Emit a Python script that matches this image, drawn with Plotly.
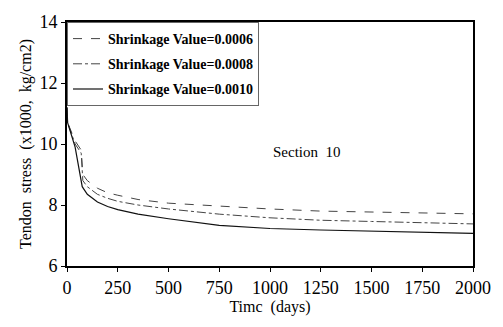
import plotly.graph_objects as go

days = [0, 3, 40, 70, 78, 100, 150, 200, 250, 350, 500, 750, 1000, 1250, 1500, 1750, 2000]
s0006 = [11.2, 10.7, 10.1, 9.8, 9.0, 8.8, 8.55, 8.4, 8.32, 8.18, 8.06, 7.96, 7.87, 7.8, 7.77, 7.74, 7.71]
s0008 = [11.2, 10.7, 10.0, 9.7, 8.8, 8.6, 8.35, 8.22, 8.12, 8.0, 7.87, 7.7, 7.58, 7.5, 7.46, 7.42, 7.38]
days10 = [0, 3, 40, 75, 100, 150, 200, 250, 350, 500, 750, 1000, 1250, 1500, 1750, 2000]
s0010 = [11.2, 10.7, 9.9, 8.6, 8.35, 8.1, 7.95, 7.85, 7.7, 7.55, 7.33, 7.23, 7.18, 7.14, 7.1, 7.07]

names = ["Shrinkage Value=0.0006", "Shrinkage Value=0.0008", "Shrinkage Value=0.0010"]

fig = go.Figure()
fig.add_trace(go.Scatter(x=days, y=s0006, mode="lines", name=names[0], legendgroup="a",
                         line=dict(color="#444", width=1, dash="dash")))
fig.add_trace(go.Scatter(x=days, y=s0008, mode="lines", name=names[1], legendgroup="b",
                         line=dict(color="#444", width=1, dash="dashdot")))
fig.add_trace(go.Scatter(x=days10, y=s0010, mode="lines", name=names[2], legendgroup="c",
                         line=dict(color="#111", width=1.2)))

fig.add_annotation(x=1180, y=9.75, xref="x", yref="y", text="Section  10", showarrow=False,
                   font=dict(family="Liberation Serif", size=15, color="black"))

axis_common = dict(showgrid=False, zeroline=False, showline=True, linecolor="black", linewidth=2,
                   mirror=True, ticks="outside", ticklen=4, tickcolor="black",
                   tickfont=dict(family="Liberation Serif", size=18, color="black"))

fig.update_xaxes(range=[0, 2000], tickvals=[0, 250, 500, 750, 1000, 1250, 1500, 1750, 2000],
                 title=dict(text="Timc  (days)", font=dict(family="Liberation Serif", size=16, color="black"), standoff=2),
                 **axis_common)
fig.update_yaxes(range=[6, 14], tickvals=[6, 8, 10, 12, 14],
                 title=dict(text="Tendon  stress  (x1000,  kg/cm2)", font=dict(family="Liberation Serif", size=16, color="black"), standoff=4),
                 **axis_common)

fig.update_layout(
    width=503, height=327,
    margin=dict(l=67, r=21, t=13, b=61),
    paper_bgcolor="white", plot_bgcolor="white",
    showlegend=True,
    legend=dict(x=0, y=1, xanchor="left", yanchor="top", bgcolor="white",
                bordercolor="#666", borderwidth=1,
                font=dict(family="Liberation Serif", size=14, color="black", weight="bold"),
                itemwidth=30, tracegroupgap=4),
)

fig.write_html("out.html")
